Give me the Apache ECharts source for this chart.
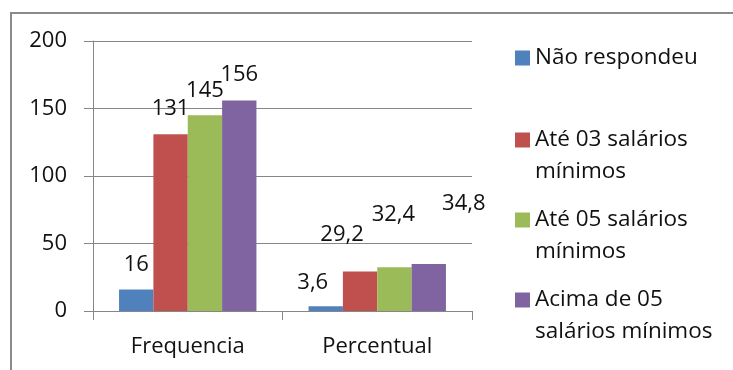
<!DOCTYPE html>
<html>
<head>
<meta charset="utf-8">
<script src="https://cdn.jsdelivr.net/npm/echarts@6/dist/echarts.min.js"></script>
<style>
  html, body { margin: 0; padding: 0; background: #fff; }
  #chart { width: 733px; height: 370px; }
</style>
</head>
<body>
<div id="chart"></div>
<script>
// dados do gráfico
const categorias = ['Frequencia', 'Percentual'];
const naoRespondeu = [16, 3.6];
const ate03 = [131, 29.2];
const ate05 = [145, 32.4];
const acima05 = [156, 34.8];
const nomes = ['Não respondeu', 'Até 03 salários mínimos', 'Até 05 salários mínimos', 'Acima de 05 salários mínimos'];
const nomesLegenda = ['Não respondeu', 'Até 03 salários\nmínimos', 'Até 05 salários\nmínimos', 'Acima de 05\nsalários mínimos'];
const eixoY = [0, 50, 100, 150, 200];

const cores = ['#4F81BD', '#C0504D', '#9BBB59', '#8064A2'];
const fonte = '"Open Sans", sans-serif';

// deslocamento dos rótulos (como o Excel os deixou)
const deslocRotulos = [
  [[0, 0], [-13, 2]],
  [[0, 0], [-18, -12]],
  [[0, 0], [-1, -28]],
  [[0, -1], [35, -35]]
];
const legendaTop = [42, 92, 172, 252];

const chart = echarts.init(document.getElementById('chart'));

const valores = [naoRespondeu, ate03, ate05, acima05];
const series = valores.map((vals, i) => ({
  name: nomes[i],
  type: 'bar',
  barGap: 0,
  barCategoryGap: '27.5%',
  itemStyle: { color: cores[i] },
  label: {
    show: true,
    position: 'top',
    distance: 14,
    fontFamily: fonte,
    fontSize: 22,
    color: '#111',
    formatter: p => String(p.value).replace('.', ',')
  },
  data: vals.map((v, j) => ({ value: v, label: { offset: deslocRotulos[i][j] } }))
}));

// marcador alinhado com a primeira linha: linha vazia em cima
const legendas = nomes.map((n, i) => ({
  data: [n],
  left: 515,
  top: legendaTop[i],
  padding: 0,
  itemWidth: 15,
  itemHeight: 15,
  itemGap: 0,
  selectedMode: false,
  icon: 'rect',
  formatter: () => (i === 0 ? nomesLegenda[i] : ' \n' + nomesLegenda[i]),
  textStyle: {
    fontFamily: fonte,
    fontSize: 22.5,
    color: '#111',
    lineHeight: 32
  }
}));

chart.setOption({
  animation: false,
  backgroundColor: '#fff',
  graphic: [{
    type: 'rect',
    shape: { x: 11, y: 13, width: 760, height: 400 },
    style: { fill: 'none', stroke: '#8a8a8a', lineWidth: 2 }
  }],
  legend: legendas,
  grid: { left: 93, right: 261, top: 41, bottom: 59 },
  xAxis: {
    type: 'category',
    data: categorias,
    axisLine: { lineStyle: { color: '#868686', width: 1 } },
    axisTick: { show: true, length: 9, lineStyle: { color: '#868686' } },
    axisLabel: { fontFamily: fonte, fontSize: 22, color: '#111', margin: 25 }
  },
  yAxis: {
    type: 'value',
    min: eixoY[0],
    max: eixoY[eixoY.length - 1],
    interval: 50,
    axisLine: { show: true, lineStyle: { color: '#868686', width: 1 } },
    axisTick: { show: true, length: 9, lineStyle: { color: '#868686' } },
    splitLine: { lineStyle: { color: '#868686', width: 1 } },
    axisLabel: { fontFamily: fonte, fontSize: 22, color: '#111', margin: 26 }
  },
  series: series
});
</script>
</body>
</html>
